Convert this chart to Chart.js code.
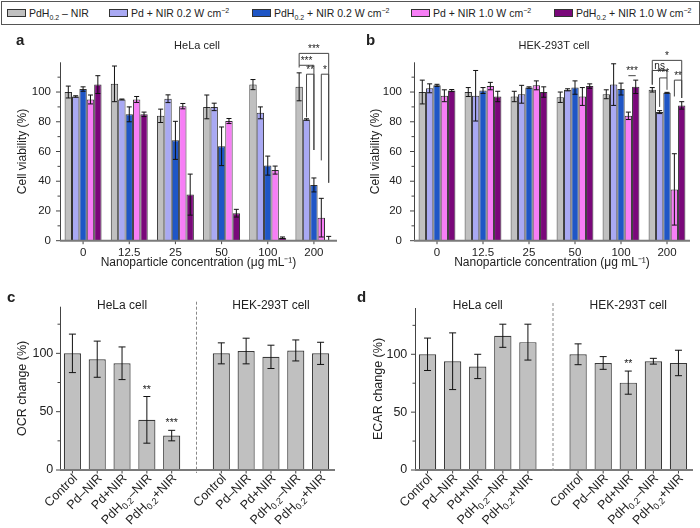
<!DOCTYPE html>
<html>
<head>
<meta charset="utf-8">
<script src="https://cdn.jsdelivr.net/npm/chart.js@4.4.0/dist/chart.umd.min.js"></script>
<style>
  body { margin: 0; background: #fff; font-family: "Liberation Sans", Arial, sans-serif; }
  #wrap { position: relative; width: 700px; height: 528px; overflow: hidden; }
  canvas { position: absolute; }
  #legend { position: absolute; left: 1px; top: 1px; width: 697px; height: 22px; border: 1px solid #555; }
  .item { position: absolute; top: 4px; font-size: 10.5px; color: #222; white-space: nowrap; line-height: 14px; }
  .sw { display: inline-block; width: 17px; height: 6px; border: 1px solid #333; vertical-align: middle; margin-right: 3px; position: relative; top: -1px; }
  sub, sup { font-size: 7px; line-height: 0; }
</style>
</head>
<body>
<div id="wrap">
  <div id="legend"></div>
  <canvas id="chart-a" width="350" height="240" style="left:0;top:30px"></canvas>
  <canvas id="chart-b" width="350" height="240" style="left:350px;top:30px"></canvas>
  <canvas id="chart-c" width="350" height="258" style="left:0;top:270px"></canvas>
  <canvas id="chart-d" width="350" height="258" style="left:350px;top:270px"></canvas>
</div>
<script>
// ---- data ----
var concentrations = ['0', '12.5', '25', '50', '100', '200'];
var seriesNames = ['PdH<sub>0.2</sub> – NIR', 'Pd + NIR 0.2 W cm<sup>−2</sup>', 'PdH<sub>0.2</sub> + NIR 0.2 W cm<sup>−2</sup>',
  'Pd + NIR 1.0 W cm<sup>−2</sup>', 'PdH<sub>0.2</sub> + NIR 1.0 W cm<sup>−2</sup>'];
var seriesColors = ['#c0c0c0', '#a9a9f3', '#1f56c6', '#f77ef6', '#7a087a'];

// panel a, HeLa viability, one row per series
var helaViability = [
  [100, 105.5, 84, 90, 105, 103.5],
  [97, 95, 95.5, 90, 86, 81.5],
  [102, 85, 67.5, 63.5, 50.5, 37.5],
  [95, 95, 90.5, 80.5, 47.5, 15.5],
  [105, 85, 31, 18.5, 2, 0.4]
];
var helaViabilityErr = [
  [4, 12, 4.5, 8, 3.4, 9.4],
  [0.5, 0.3, 2.6, 2.5, 4, 0.5],
  [1.5, 5, 12.8, 13, 6.4, 4.7],
  [3, 2, 1.8, 1.7, 2.7, 13],
  [6, 1.5, 13.8, 2.6, 0.5, 2.5]
];

// panel b, HEK-293T viability
var hekViability = [
  [100, 100, 97, 96.5, 98.5, 101.5],
  [102.5, 97.5, 98.5, 101.5, 105, 86.5],
  [104.5, 101, 103, 103, 102, 99.5],
  [97.5, 104, 104.5, 97, 84, 34.5],
  [101, 97, 100, 104, 103.5, 91]
];
var hekViabilityErr = [
  [8, 3, 3.5, 3.5, 3, 1.5],
  [3, 17, 6, 0.7, 14, 1],
  [0.7, 2, 0.5, 4.5, 4, 0.3],
  [4, 2.5, 3, 6, 2.5, 24],
  [0.7, 3.5, 3.5, 1.5, 4.5, 2.5]
];

// significance brackets: [group, series] ends, level and leg ends in % units
var helaBrackets = [
  { from: [5, 0], to: [5, 4], level: 126, legs: [118, 39], label: '***' },
  { from: [5, 0], to: [5, 2], level: 118, legs: [116.5, 61], label: '***' },
  { from: [5, 1], to: [5, 2], level: 112, legs: [83, 61], label: '**' },
  { from: [5, 3], to: [5, 4], level: 112, legs: [54, 39], label: '*' }
];
var hekBrackets = [
  { from: [4, 3], to: [4, 4], level: 111, legs: [111, 111], label: '***' },
  { from: [5, 0], to: [5, 4], level: 121.3, legs: [105, 96], label: '*' },
  { from: [5, 0], to: [5, 2], level: 114.5, legs: [105, 109.5], label: 'ns' },
  { from: [5, 1], to: [5, 2], level: 109.5, legs: [90, 101.5], label: '***' },
  { from: [5, 3], to: [5, 4], level: 108, legs: [97, 96], label: '**' }
];

// panels c and d (index 5 is the gap between the two cell lines)
var assayLabels = ['Control', 'Pd–NIR', 'Pd+NIR', 'PdH_{0.2}–NIR', 'PdH_{0.2}+NIR', '',
  'Control', 'Pd–NIR', 'Pd+NIR', 'PdH_{0.2}–NIR', 'PdH_{0.2}+NIR'];
var ocrValues = [100, 95, 91.5, 43, 29.5, null, 100, 102, 97, 102.5, 100];
var ocrErr = [16.5, 15.5, 14, 20, 4.5, null, 9, 11, 10, 9, 9.5];
var ocrStars = [[3, '**'], [4, '***']];
var ecarValues = [100, 94, 89.5, 116, 110.5, null, 100, 92.5, 75.5, 94, 92.5];
var ecarErr = [14, 24.5, 10.5, 10, 15.5, null, 9, 5.5, 10, 2.5, 11];
var ecarStars = [[8, '**']];

var FONT = '"Liberation Sans", Arial, sans-serif';
Chart.defaults.font.family = FONT;
Chart.defaults.font.size = 11;
Chart.defaults.color = '#222';
Chart.defaults.animation = false;

// legend (html so sub/superscripts stay text)
var legendLefts = [6, 108, 251, 410, 553];
var legendBox = document.getElementById('legend');
for (var s = 0; s < seriesNames.length; s++) {
  var item = document.createElement('div');
  item.className = 'item';
  item.style.left = (legendLefts[s] - 1) + 'px';
  item.innerHTML = '<span class="sw" style="background:' + seriesColors[s] + '"></span>' + seriesNames[s];
  legendBox.appendChild(item);
}

var errorBarPlugin = {
  id: 'errorBars',
  afterDatasetsDraw: function(chart) {
    var ctx = chart.ctx;
    var y = chart.scales.y;
    ctx.save();
    ctx.strokeStyle = '#111';
    ctx.lineWidth = 1;
    chart.data.datasets.forEach(function(ds, d) {
      var meta = chart.getDatasetMeta(d);
      meta.data.forEach(function(bar, i) {
        var v = ds.data[i], e = ds.errors[i];
        if (v === null || e === null) return;
        var top = y.getPixelForValue(v + e);
        var bot = y.getPixelForValue(Math.max(v - e, 0));
        var c = ds.cap;
        ctx.beginPath();
        ctx.moveTo(bar.x, top); ctx.lineTo(bar.x, bot);
        ctx.moveTo(bar.x - c, top); ctx.lineTo(bar.x + c, top);
        if (v - e > 0) { ctx.moveTo(bar.x - c, bot); ctx.lineTo(bar.x + c, bot); }
        ctx.stroke();
      });
    });
    ctx.restore();
  }
};

function makeDecor(draw) {
  return { id: 'decor', afterDraw: function(chart) { chart.ctx.save(); draw(chart, chart.ctx); chart.ctx.restore(); } };
}

function drawAxes(chart, ctx, yMajor, yMinor, xTicks, extend) {
  var a = chart.chartArea, x = chart.scales.x, y = chart.scales.y;
  ctx.strokeStyle = '#444';
  ctx.lineWidth = 1;
  ctx.beginPath();
  ctx.moveTo(a.left + 0.5, a.top); ctx.lineTo(a.left + 0.5, a.bottom);
  yMajor.forEach(function(v) { var p = y.getPixelForValue(v); ctx.moveTo(a.left - 4, p); ctx.lineTo(a.left, p); });
  yMinor.forEach(function(v) { var p = y.getPixelForValue(v); ctx.moveTo(a.left - 2.5, p); ctx.lineTo(a.left, p); });
  xTicks.forEach(function(i) { var p = x.getPixelForValue(i); ctx.moveTo(p, a.bottom); ctx.lineTo(p, a.bottom + 3.5); });
  ctx.stroke();
  ctx.strokeStyle = '#7a7a7a';
  ctx.lineWidth = 2;
  ctx.beginPath();
  ctx.moveTo(a.left, a.bottom); ctx.lineTo(a.right + extend, a.bottom);
  ctx.stroke();
}

function drawText(ctx, text, x, y, font, align) {
  ctx.font = font;
  ctx.fillStyle = '#222';
  ctx.textAlign = align || 'center';
  ctx.textBaseline = 'alphabetic';
  ctx.fillText(text, x, y);
}

function drawBrackets(chart, ctx, list) {
  var y = chart.scales.y;
  ctx.strokeStyle = '#444';
  ctx.lineWidth = 1;
  list.forEach(function(b) {
    var x1 = chart.getDatasetMeta(b.from[1]).data[b.from[0]].x;
    var x2 = chart.getDatasetMeta(b.to[1]).data[b.to[0]].x;
    var yl = y.getPixelForValue(b.level);
    ctx.beginPath();
    ctx.moveTo(x1, y.getPixelForValue(b.legs[0]));
    ctx.lineTo(x1, yl); ctx.lineTo(x2, yl);
    ctx.lineTo(x2, y.getPixelForValue(b.legs[1]));
    ctx.stroke();
    drawText(ctx, b.label, (x1 + x2) / 2, yl - 1.5, '10px ' + FONT);
  });
}

function drawRotatedLabel(ctx, text, x, y) {
  var parts = text.split(/_\{|\}/);
  var fonts = ['12.5px ' + FONT, '9px ' + FONT];
  var total = 0, widths = [];
  parts.forEach(function(p, k) { ctx.font = fonts[k % 2]; widths.push(ctx.measureText(p).width); total += widths[k]; });
  ctx.save();
  ctx.translate(x, y);
  ctx.rotate(-Math.PI / 4);
  ctx.fillStyle = '#222';
  ctx.textAlign = 'left';
  ctx.textBaseline = 'middle';
  var cx = -total;
  parts.forEach(function(p, k) {
    ctx.font = fonts[k % 2];
    ctx.fillText(p, cx, k % 2 ? 4 : 0);
    cx += widths[k];
  });
  ctx.restore();
}

function viabilityChart(id, values, errs, brackets, letter, title, pad) {
  var datasets = values.map(function(row, s) {
    return {
      data: row, errors: errs[s], cap: 2.5,
      backgroundColor: seriesColors[s], borderColor: '#333', borderWidth: 1,
      barPercentage: 1, categoryPercentage: 0.8
    };
  });
  return new Chart(document.getElementById(id), {
    type: 'bar',
    data: { labels: concentrations, datasets: datasets },
    options: {
      responsive: false,
      layout: { padding: { left: 0, right: pad.right, top: 32.3, bottom: 0 } },
      plugins: { legend: { display: false }, tooltip: { enabled: false } },
      scales: {
        x: {
          grid: { display: false, drawTicks: false }, border: { display: false },
          ticks: { padding: 5, font: { size: 11.5 } },
          title: { display: true, text: 'Nanoparticle concentration (μg mL⁻¹)', font: { size: 12 }, padding: { top: 0, bottom: 0 } },
          afterFit: function(sc) { sc.height = 29.3; }
        },
        y: {
          min: 0, max: 120,
          grid: { display: false, drawTicks: false }, border: { display: false },
          ticks: { stepSize: 20, padding: pad.tick, font: { size: 11.5 }, callback: function(v) { return v <= 100 ? v : ''; } },
          title: { display: true, text: 'Cell viability (%)', font: { size: 12 }, padding: { top: pad.title, bottom: 0 } },
          afterFit: function(sc) { sc.width = pad.left; }
        }
      }
    },
    plugins: [errorBarPlugin, makeDecor(function(chart, ctx) {
      drawAxes(chart, ctx, [0, 20, 40, 60, 80, 100], [10, 30, 50, 70, 90, 110], [0, 1, 2, 3, 4, 5], 0);
      drawBrackets(chart, ctx, brackets);
      drawText(ctx, letter, pad.letter, 15, 'bold 15px ' + FONT, 'left');
      drawText(ctx, title, pad.titleX, 19, '11px ' + FONT);
    })]
  });
}

function assayChart(id, values, errs, stars, yTitle, letter, pad) {
  return new Chart(document.getElementById(id), {
    type: 'bar',
    data: {
      labels: assayLabels,
      datasets: [{
        data: values, errors: errs, cap: 3.5,
        backgroundColor: '#c0c0c0', borderColor: '#3a3a3a', borderWidth: 1.2,
        barPercentage: 0.69, categoryPercentage: 1
      }]
    },
    options: {
      responsive: false,
      layout: { padding: { left: 0, right: pad.right, top: pad.top, bottom: 0 } },
      plugins: { legend: { display: false }, tooltip: { enabled: false } },
      scales: {
        x: {
          grid: { display: false, drawTicks: false }, border: { display: false },
          ticks: { display: false },
          afterFit: function(sc) { sc.height = 58; }
        },
        y: {
          min: 0, max: 140,
          grid: { display: false, drawTicks: false }, border: { display: false },
          ticks: { stepSize: 50, padding: pad.tick, font: { size: 12.5 }, callback: function(v) { return v <= 100 ? v : ''; } },
          title: { display: true, text: yTitle, font: { size: 12.5 }, padding: { top: pad.title, bottom: 0 } },
          afterFit: function(sc) { sc.width = pad.left; }
        }
      }
    },
    plugins: [errorBarPlugin, makeDecor(function(chart, ctx) {
      var a = chart.chartArea, x = chart.scales.x, y = chart.scales.y;
      var barIdx = [0, 1, 2, 3, 4, 6, 7, 8, 9, 10];
      drawAxes(chart, ctx, [0, 50, 100], [25, 75, 125], barIdx, 2);
      // dashed divider between the two cell lines
      var gx = x.getPixelForValue(5);
      ctx.strokeStyle = '#888';
      ctx.lineWidth = 1;
      ctx.setLineDash([3, 2]);
      ctx.beginPath(); ctx.moveTo(gx, a.top - 5); ctx.lineTo(gx, a.bottom + 3); ctx.stroke();
      ctx.setLineDash([]);
      barIdx.forEach(function(i) { drawRotatedLabel(ctx, assayLabels[i], x.getPixelForValue(i) + 3, a.bottom + 6.5); });
      stars.forEach(function(st) {
        var i = st[0];
        drawText(ctx, st[1], x.getPixelForValue(i), y.getPixelForValue(values[i] + errs[i]) - 4, '10.5px ' + FONT);
      });
      drawText(ctx, letter, pad.letter, 32, 'bold 15px ' + FONT, 'left');
      drawText(ctx, 'HeLa cell', x.getPixelForValue(2), 38.5, '12px ' + FONT);
      drawText(ctx, 'HEK-293T cell', x.getPixelForValue(8), 38.5, '12px ' + FONT);
    })]
  });
}

viabilityChart('chart-a', helaViability, helaViabilityErr, helaBrackets, 'a', 'HeLa cell',
  { left: 60, right: 13, tick: 9, title: 15, letter: 16, titleX: 197 });
viabilityChart('chart-b', hekViability, hekViabilityErr, hekBrackets, 'b', 'HEK-293T cell',
  { left: 64, right: 10, tick: 12, title: 18, letter: 16, titleX: 204 });
assayChart('chart-c', ocrValues, ocrErr, ocrStars, 'OCR change (%)', 'c',
  { left: 60, right: 17, top: 36.7, tick: 6.7, title: 15, letter: 7 });
assayChart('chart-d', ecarValues, ecarErr, ecarStars, 'ECAR change (%)', 'd',
  { left: 65, right: 9, top: 38, tick: 7.7, title: 21.3, letter: 7 });
</script>
</body>
</html>
